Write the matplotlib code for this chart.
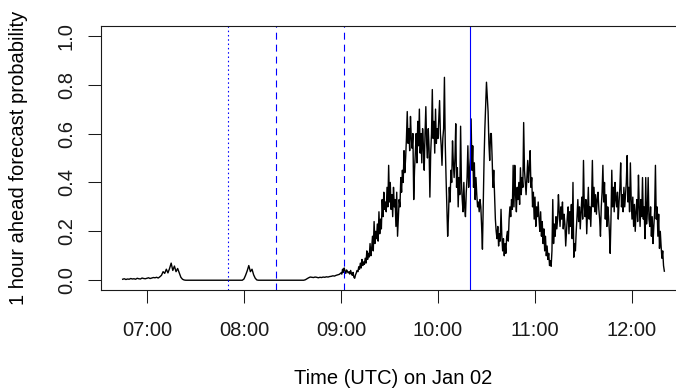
import matplotlib
matplotlib.use("Agg")
import matplotlib.pyplot as plt
import matplotlib.dates as mdates
import pandas as pd

plt.rcParams["font.family"] = ["Liberation Sans", "DejaVu Sans"]
plt.rcParams["lines.scale_dashes"] = False

# quiet part: 1-minute forecast probabilities, 06:45 to 08:59 UTC
early_start = "2021-01-02 06:45"
prob_early = [
    0.004, 0.006, 0.003, 0.005, 0.004, 0.007, 0.005, 0.006, 0.004, 0.008,
    0.006, 0.005, 0.009, 0.007, 0.006, 0.008, 0.010, 0.007, 0.009, 0.011,
    0.010, 0.012, 0.009, 0.014, 0.020, 0.035, 0.028, 0.045, 0.030, 0.048,
    0.070, 0.040, 0.058, 0.035, 0.048, 0.030, 0.012, 0.004, 0.001, 0.000,
    0.000, 0.000, 0.000, 0.000, 0.000, 0.000, 0.000, 0.000, 0.000, 0.000,
    0.000, 0.000, 0.000, 0.000, 0.000, 0.000, 0.000, 0.000, 0.000, 0.000,
    0.000, 0.000, 0.000, 0.000, 0.000, 0.000, 0.000, 0.000, 0.000, 0.000,
    0.000, 0.000, 0.000, 0.000, 0.000, 0.005, 0.020, 0.038, 0.060, 0.035,
    0.045, 0.022, 0.008, 0.001, 0.000, 0.000, 0.000, 0.000, 0.000, 0.000,
    0.000, 0.000, 0.000, 0.000, 0.000, 0.000, 0.000, 0.000, 0.000, 0.000,
    0.000, 0.000, 0.000, 0.000, 0.000, 0.000, 0.000, 0.000, 0.000, 0.000,
    0.000, 0.000, 0.000, 0.002, 0.006, 0.010, 0.013, 0.012, 0.011, 0.013,
    0.012, 0.010, 0.012, 0.011, 0.013, 0.012, 0.014, 0.013, 0.015, 0.016,
    0.018, 0.017, 0.020, 0.022, 0.024,
]

# active part: 30-second forecast probabilities, 09:00 to 12:20 UTC
late_start = "2021-01-02 09:00"
prob_late = [
    0.030, 0.025, 0.045, 0.032, 0.050, 0.038, 0.028, 0.042, 0.035, 0.030,
    0.035, 0.025, 0.040, 0.028, 0.020, 0.032, 0.012, 0.008, 0.022, 0.030,
    0.040, 0.035, 0.055, 0.045, 0.070, 0.050, 0.085, 0.060, 0.075, 0.065,
    0.090, 0.070, 0.120, 0.085, 0.110, 0.095, 0.150, 0.100, 0.130, 0.180,
    0.120, 0.240, 0.150, 0.200, 0.170, 0.230, 0.160, 0.280, 0.190, 0.250,
    0.210, 0.330, 0.260, 0.360, 0.290, 0.320, 0.280, 0.380, 0.300, 0.470,
    0.320, 0.400, 0.290, 0.350, 0.260, 0.380, 0.300, 0.330, 0.220, 0.360,
    0.180, 0.260, 0.330, 0.300, 0.420, 0.360, 0.450, 0.400, 0.530, 0.440,
    0.500, 0.580, 0.690, 0.560, 0.620, 0.530, 0.670, 0.580, 0.540, 0.600,
    0.330, 0.450, 0.520, 0.600, 0.480, 0.650, 0.550, 0.700, 0.520, 0.600,
    0.480, 0.620, 0.550, 0.450, 0.600, 0.710, 0.560, 0.500, 0.620, 0.540,
    0.340, 0.520, 0.600, 0.780, 0.580, 0.650, 0.520, 0.700, 0.560, 0.620,
    0.580, 0.660, 0.735, 0.600, 0.550, 0.470, 0.580, 0.620, 0.830, 0.560,
    0.420, 0.300, 0.180, 0.260, 0.380, 0.320, 0.450, 0.400, 0.570, 0.480,
    0.420, 0.500, 0.640, 0.380, 0.460, 0.300, 0.420, 0.350, 0.630, 0.400,
    0.330, 0.280, 0.400, 0.300, 0.260, 0.360, 0.420, 0.550, 0.380, 0.450,
    0.500, 0.660, 0.450, 0.550, 0.380, 0.480, 0.330, 0.420, 0.350, 0.300,
    0.320, 0.280, 0.330, 0.300, 0.220, 0.127, 0.300, 0.490, 0.620, 0.720,
    0.810, 0.750, 0.690, 0.560, 0.490, 0.600, 0.600, 0.500, 0.380, 0.450,
    0.350, 0.250, 0.200, 0.170, 0.220, 0.140, 0.190, 0.160, 0.290, 0.180,
    0.120, 0.170, 0.100, 0.150, 0.110, 0.180, 0.200, 0.160, 0.250, 0.300,
    0.260, 0.330, 0.290, 0.470, 0.300, 0.470, 0.350, 0.280, 0.380, 0.330,
    0.400, 0.310, 0.460, 0.350, 0.420, 0.380, 0.645, 0.450, 0.400, 0.350,
    0.420, 0.490, 0.400, 0.460, 0.530, 0.380, 0.420, 0.300, 0.360, 0.250,
    0.340, 0.220, 0.300, 0.260, 0.320, 0.250, 0.200, 0.280, 0.180, 0.240,
    0.150, 0.210, 0.120, 0.180, 0.100, 0.140, 0.085, 0.110, 0.060, 0.080,
    0.057, 0.120, 0.330, 0.150, 0.230, 0.180, 0.260, 0.210, 0.250, 0.350,
    0.280, 0.220, 0.300, 0.250, 0.320, 0.210, 0.270, 0.230, 0.140, 0.200,
    0.260, 0.300, 0.190, 0.280, 0.220, 0.310, 0.170, 0.400, 0.094, 0.150,
    0.120, 0.200, 0.260, 0.330, 0.240, 0.300, 0.210, 0.280, 0.340, 0.250,
    0.490, 0.300, 0.260, 0.330, 0.190, 0.280, 0.380, 0.250, 0.300, 0.220,
    0.320, 0.490, 0.300, 0.380, 0.280, 0.350, 0.270, 0.330, 0.360, 0.290,
    0.250, 0.180, 0.300, 0.360, 0.470, 0.320, 0.400, 0.250, 0.350, 0.220,
    0.300, 0.260, 0.200, 0.110, 0.250, 0.450, 0.300, 0.380, 0.280, 0.400,
    0.330, 0.300, 0.360, 0.250, 0.320, 0.380, 0.480, 0.300, 0.350, 0.280,
    0.380, 0.300, 0.350, 0.400, 0.510, 0.320, 0.380, 0.280, 0.480, 0.330,
    0.250, 0.340, 0.220, 0.310, 0.200, 0.280, 0.330, 0.240, 0.430, 0.300,
    0.220, 0.330, 0.260, 0.420, 0.250, 0.300, 0.170, 0.420, 0.230, 0.280,
    0.420, 0.250, 0.220, 0.300, 0.180, 0.260, 0.150, 0.220, 0.280, 0.470,
    0.250, 0.300, 0.180, 0.270, 0.130, 0.200, 0.140, 0.090, 0.120, 0.060,
    0.037,
]

# event markers (vertical lines)
event_times = ["07:50", "08:20", "09:02", "10:20"]
event_styles = [(0, (1.1, 2.0)), (0, (5.0, 3.6)), (0, (5.0, 3.6)), "-"]

y_ticks = [0.0, 0.2, 0.4, 0.6, 0.8, 1.0]
x_label = "Time (UTC) on Jan 02"
y_label = "1 hour ahead forecast probability"

times = pd.date_range(early_start, periods=len(prob_early), freq="1min").append(
    pd.date_range(late_start, periods=len(prob_late), freq="30s")
)
prob = prob_early + prob_late
day = times[0].strftime("%Y-%m-%d")

fig = plt.figure(figsize=(6.76, 3.88), dpi=100)
ax = fig.add_axes([101 / 676, 98 / 388, 585 / 676, 264 / 388])

ax.plot(times, prob, color="black", lw=1.0)

for t, ls in zip(event_times, event_styles):
    ax.axvline(pd.Timestamp(f"{day} {t}"), color="#0000FF", lw=0.8, linestyle=ls)

# R-style 4% padding
span = times[-1] - times[0]
ax.set_xlim(times[0] - 0.04 * span, times[-1] + 0.04 * span)
ax.set_ylim(-0.04, 1.04)

ax.xaxis.set_major_locator(mdates.HourLocator())
ax.xaxis.set_major_formatter(mdates.DateFormatter("%H:%M"))
ax.set_yticks(y_ticks)
ax.set_yticklabels([f"{v:.1f}" for v in y_ticks], rotation=90, va="center")

ax.tick_params(length=9.1, width=0.75, labelsize=14.5, colors="#1a1a1a")
ax.tick_params(axis="x", pad=13)
ax.tick_params(axis="y", pad=9)
for s in ax.spines.values():
    s.set_linewidth(0.8)
    s.set_color("#1a1a1a")

ax.set_xlabel(x_label, fontsize=14.5, labelpad=21)
ax.set_ylabel(y_label, fontsize=14.5, labelpad=21)

fig.savefig("out.png", dpi=100)
